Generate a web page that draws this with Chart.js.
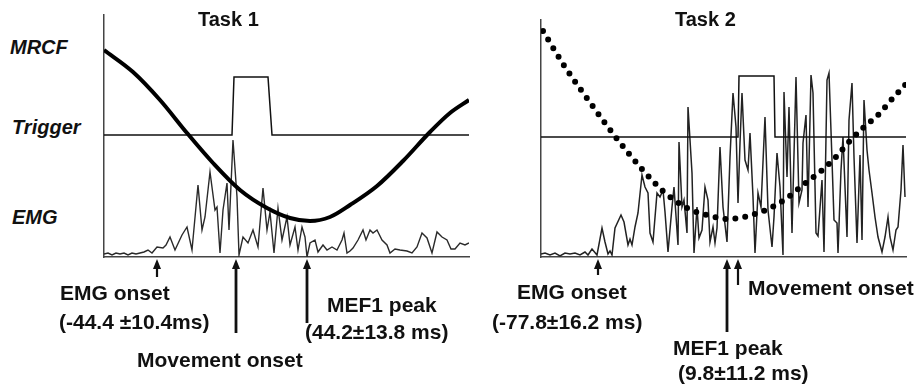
<!DOCTYPE html>
<html>
<head>
<meta charset="utf-8">
<script src="https://cdn.jsdelivr.net/npm/chart.js@4.4.0/dist/chart.umd.min.js"></script>
<style>
  html, body { margin: 0; padding: 0; background: #fff; }
  #page { position: relative; width: 917px; height: 384px; overflow: hidden; }
  canvas { position: absolute; }
  .lbl { position: absolute; font-family: "Liberation Sans", Arial, sans-serif; font-weight: bold;
         font-size: 20px; line-height: 24px; color: #111; white-space: nowrap; z-index: 2; }
  .note { font-size: 21px; }
  .row { font-style: italic; }
</style>
</head>
<body>
<div id="page">
  <canvas id="task1" width="373" height="373" style="left:100px;top:11px"></canvas>
  <canvas id="task2" width="373" height="368" style="left:537px;top:16px"></canvas>

  <div class="lbl" style="left:198px;top:7px">Task 1</div>
  <div class="lbl" style="left:675px;top:7px">Task 2</div>
  <div class="lbl row" style="left:10px;top:35px">MRCF</div>
  <div class="lbl row" style="left:12px;top:115px">Trigger</div>
  <div class="lbl row" style="left:12px;top:205px">EMG</div>

  <div class="lbl note" style="left:60px;top:281px">EMG onset</div>
  <div class="lbl note" style="left:59px;top:310px">(-44.4 ±10.4ms)</div>
  <div class="lbl note" style="left:137px;top:348px">Movement onset</div>
  <div class="lbl note" style="left:327px;top:293px">MEF1 peak</div>
  <div class="lbl note" style="left:305px;top:320px">(44.2±13.8 ms)</div>

  <div class="lbl note" style="left:517px;top:280px">EMG onset</div>
  <div class="lbl note" style="left:492px;top:310px">(-77.8±16.2 ms)</div>
  <div class="lbl note" style="left:748px;top:276px">Movement onset</div>
  <div class="lbl note" style="left:673px;top:336px">MEF1 peak</div>
  <div class="lbl note" style="left:678px;top:361px">(9.8±11.2 ms)</div>
</div>
<script>
// time axis in samples, amplitudes in arbitrary units

// ---- Task 1 ----
const mrcf1T = [0, 29, 56, 83, 109, 136, 163, 186, 206, 226, 246, 273, 299, 326, 346, 365];
const mrcf1V = [207, 185, 157, 124, 94, 67, 49, 39, 36, 40, 52, 71, 96, 125, 144, 157];

const trig1T = [0, 128, 130, 164, 168, 365];
const trig1V = [122, 122, 180, 180, 122, 122];

const emg1T = [0, 4, 8, 12, 16, 20, 24, 28, 32, 36, 40, 44, 48, 53, 59, 62, 66, 71, 78, 83, 88, 94, 98, 101,
  106, 111, 113, 116, 119, 123, 125, 129, 133, 135, 139, 144, 149, 154, 159, 163, 166, 170, 174, 178,
  183, 186, 191, 194, 198, 201, 203, 206, 211, 214, 219, 223, 228, 233, 238, 240, 243, 246, 249, 254,
  259, 262, 266, 269, 273, 278, 283, 286, 291, 296, 303, 308, 313, 318, 323, 328, 333, 338, 343, 347,
  351, 356, 361, 365];
const emg1V = [3, 4, 2, 4, 3, 4, 2, 4, 3, 4, 5, 7, 4, 10, 9, 12, 20, 7, 22, 30, 7, 72, 27, 40,
  85, 47, 50, 4, 47, 74, 27, 117, 60, 2, 20, 14, 27, 10, 69, 27, 45, 4, 49, 17,
  40, 12, 30, 7, 30, 20, 0, 14, 17, 5, 12, 7, 10, 7, 17, 24, 4, 6, 9, 17,
  27, 17, 27, 24, 27, 17, 12, 4, 8, 7, 6, 4, 10, 24, 19, 4, 25, 20, 17, 8,
  8, 14, 12, 14];

const events1 = [53, 132, 203];          // EMG onset, movement onset, MEF1 peak

// ---- Task 2 ----
const mrcf2T = [2, 24, 48, 73, 100, 122, 146, 166, 187, 207, 227, 246, 262, 279, 294, 307, 322, 337, 352, 365];
const mrcf2V = [226, 190, 156, 122, 89, 66, 49, 42, 38, 41, 48, 59, 72, 85, 99, 114, 129, 142, 159, 173];

const trig2T = [0, 197, 198, 233, 234, 365];
const trig2V = [120, 120, 181, 181, 120, 120];

const emg2T = [0, 4, 9, 14, 19, 24, 29, 34, 39, 44, 47, 51, 56, 61, 64, 67, 69, 71, 74, 80, 83, 87, 89, 91,
  94, 97, 101, 104, 107, 109, 112, 116, 119, 122, 124, 127, 131, 133, 137, 138, 141, 143, 146, 147,
  151, 153, 156, 158, 161, 164, 167, 169, 172, 174, 176, 179, 182, 186, 189, 192, 195, 197, 199, 201,
  204, 207, 209, 212, 214, 217, 220, 224, 227, 231, 233, 236, 239, 242, 243, 246, 248, 251, 252, 255,
  258, 261, 262, 265, 267, 270, 272, 275, 277, 281, 283, 286, 288, 291, 293, 296, 297, 300, 302, 306,
  308, 311, 313, 316, 319, 321, 323, 326, 328, 331, 334, 337, 341, 344, 347, 349, 352, 355, 357, 360,
  362, 364];
const emg2V = [3, 4, 2, 4, 1, 4, 3, 4, 2, 5, 2, 8, 2, 29, 15, 3, 6, 2, 29, 42, 35, 12, 18, 12,
  30, 44, 82, 70, 64, 24, 15, 64, 60, 67, 45, 5, 50, 70, 12, 115, 50, 57, 24, 150,
  84, 4, 50, 19, 27, 70, 57, 15, 30, 14, 29, 110, 50, 15, 100, 164, 130, 54, 114, 164,
  97, 87, 124, 60, 4, 64, 50, 140, 47, 10, 40, 104, 70, 2, 165, 80, 150, 24, 64, 180,
  54, 67, 114, 142, 50, 182, 164, 24, 21, 77, 5, 177, 184, 97, 37, 34, 4, 87, 120, 20,
  137, 174, 100, 14, 102, 17, 157, 107, 87, 64, 40, 20, 5, 20, 40, 20, 7, 27, 30, 67,
  112, 60];

const events2 = [57, 186, 197];          // EMG onset, MEF1 peak, movement onset

const pts = (t, v) => t.map((x, i) => ({ x: x, y: v[i] }));

const eventArrows = {
  id: 'eventArrows',
  afterDraw(chart, args, opts) {
    const { ctx, chartArea, scales: { x } } = chart;
    ctx.save();
    ctx.strokeStyle = '#111';
    ctx.fillStyle = '#111';
    opts.events.forEach((ev, i) => {
      const px = x.getPixelForValue(ev);
      const top = chartArea.bottom + 2;
      const bottom = chartArea.bottom + opts.lengths[i];
      ctx.lineWidth = opts.widths[i];
      ctx.beginPath();
      ctx.moveTo(px, top + 6);
      ctx.lineTo(px, bottom);
      ctx.stroke();
      ctx.beginPath();
      ctx.moveTo(px, top);
      ctx.lineTo(px - 4, top + 10);
      ctx.lineTo(px + 4, top + 10);
      ctx.closePath();
      ctx.fill();
    });
    ctx.restore();
  }
};

function makeChart(id, datasets, yMax, padBottom, arrows) {
  return new Chart(document.getElementById(id), {
    type: 'line',
    data: { datasets: datasets },
    options: {
      responsive: false,
      animation: false,
      events: [],
      layout: { padding: { left: 4, right: 4, top: 4, bottom: padBottom } },
      plugins: { legend: { display: false }, tooltip: { enabled: false }, eventArrows: arrows },
      elements: { point: { radius: 0 } },
      scales: {
        x: {
          type: 'linear', min: 0, max: 365,
          ticks: { display: false },
          grid: { color: 'transparent', drawTicks: false },
          border: { display: true, color: '#444', width: 1.5 }
        },
        y: {
          min: 0, max: yMax,
          ticks: { display: false },
          grid: { color: 'transparent', drawTicks: false },
          border: { display: true, color: '#444', width: 1.5 }
        }
      }
    },
    plugins: [eventArrows]
  });
}

makeChart('task1', [
  { label: 'MRCF', data: pts(mrcf1T, mrcf1V), borderColor: '#000', borderWidth: 4,
    cubicInterpolationMode: 'monotone', order: 0 },
  { label: 'Trigger', data: pts(trig1T, trig1V), borderColor: '#111', borderWidth: 1.5, order: 1 },
  { label: 'EMG', data: pts(emg1T, emg1V), borderColor: '#2a2a2a', borderWidth: 1.4, order: 2 }
], 242, 127, { events: events1, lengths: [20, 76, 66], widths: [2.2, 2.8, 2.8] });

makeChart('task2', [
  { label: 'MRCF', data: pts(mrcf2T, mrcf2V), borderColor: '#000', borderWidth: 6,
    borderDash: [0, 10], borderCapStyle: 'round', cubicInterpolationMode: 'monotone', order: 0 },
  { label: 'Trigger', data: pts(trig2T, trig2V), borderColor: '#111', borderWidth: 1.5, order: 1 },
  { label: 'EMG', data: pts(emg2T, emg2V), borderColor: '#222', borderWidth: 1.5, order: 2 }
], 237, 127, { events: events2, lengths: [18, 75, 28], widths: [2.2, 2.8, 2.2] });
</script>
</body>
</html>
